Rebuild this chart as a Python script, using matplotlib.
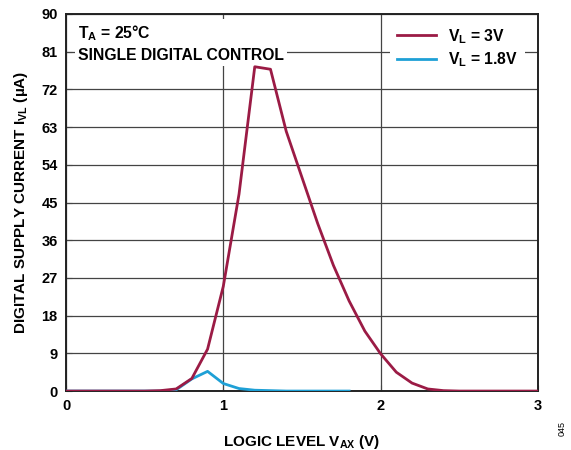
import matplotlib
matplotlib.use("Agg")
import matplotlib.pyplot as plt

plt.rcParams["font.family"] = ["Liberation Sans", "DejaVu Sans"]
plt.rcParams["font.weight"] = "bold"
plt.rcParams["mathtext.fontset"] = "custom"
plt.rcParams["mathtext.rm"] = "Liberation Sans:bold"
plt.rcParams["mathtext.it"] = "Liberation Sans:bold"
plt.rcParams["mathtext.bf"] = "Liberation Sans:bold"

# Datos
vax_3v = [0.0, 0.1, 0.2, 0.3, 0.4, 0.5, 0.6, 0.7, 0.8, 0.9, 1.0, 1.1, 1.2, 1.3, 1.4, 1.5,
          1.6, 1.7, 1.8, 1.9, 2.0, 2.1, 2.2, 2.3, 2.4, 2.5, 2.6, 2.7, 2.8, 2.9, 3.0]
ivl_3v = [0.0, 0.0, 0.0, 0.0, 0.0, 0.0, 0.1, 0.5, 3.0, 10.0, 25.0, 47.0, 77.4, 76.8, 62.0, 51.0,
          40.0, 30.0, 21.5, 14.3, 8.9, 4.5, 1.9, 0.5, 0.1, 0.0, 0.0, 0.0, 0.0, 0.0, 0.0]
vax_18v = [0.0, 0.1, 0.2, 0.3, 0.4, 0.5, 0.6, 0.7, 0.8, 0.9, 1.0, 1.1, 1.2, 1.3, 1.4, 1.5, 1.6, 1.7, 1.8]
ivl_18v = [0.0, 0.0, 0.0, 0.0, 0.0, 0.0, 0.0, 0.3, 2.9, 4.7, 1.8, 0.6, 0.2, 0.1, 0.0, 0.0, 0.0, 0.0, 0.0]

color_3v = "#9b1b45"
color_18v = "#1ea0d6"

fig = plt.figure(figsize=(5.71, 4.5), dpi=100)
ax = fig.add_axes([0.1156, 0.131, 0.8264, 0.838])

ax.plot(vax_18v, ivl_18v, color=color_18v, lw=2.0, label="V$_{L}$ = 1.8V", zorder=3)
ax.plot(vax_3v, ivl_3v, color=color_3v, lw=2.0, label="V$_{L}$ = 3V", zorder=4)

ax.set_xlim(0, 3)
ax.set_ylim(0, 90)
ax.set_xticks([0, 1, 2, 3])
ax.set_yticks(range(0, 91, 9))
ax.grid(True, color="#444444", lw=0.9)
ax.tick_params(direction="in", labelsize=10.5, length=4, color="#444444", pad=6)
for lab in ax.get_xticklabels() + ax.get_yticklabels():
    lab.set_fontweight("bold")
for s in ax.spines.values():
    s.set_linewidth(1.4)
    s.set_color("#222222")

ax.set_xlabel("LOGIC LEVEL V$_{AX}$ (V)", fontsize=11, fontweight="bold", labelpad=14)
ax.set_ylabel("DIGITAL SUPPLY CURRENT I$_{VL}$ (µA)", fontsize=11, fontweight="bold", labelpad=8)

ax.text(0.025, 0.975, "T$_{A}$ = 25°C\nSINGLE DIGITAL CONTROL", transform=ax.transAxes,
        fontsize=11.3, fontweight="bold", va="top", ha="left", linespacing=1.45,
        bbox=dict(facecolor="white", edgecolor="none", pad=2), zorder=1.8)

handles, labels = ax.get_legend_handles_labels()
leg = ax.legend(handles[::-1], labels[::-1], loc="upper right", bbox_to_anchor=(0.99, 1.005),
                frameon=True, fancybox=False, edgecolor="none", framealpha=1,
                fontsize=11.3, handlelength=2.5, handletextpad=0.75, borderpad=0.45,
                labelspacing=0.3)
leg.set_zorder(1.9)
for t in leg.get_texts():
    t.set_fontweight("bold")

fig.text(0.985, 0.03, "045", rotation=90, fontsize=6.5, fontweight="normal", ha="center", va="bottom")

fig.savefig("out.png", dpi=100)
